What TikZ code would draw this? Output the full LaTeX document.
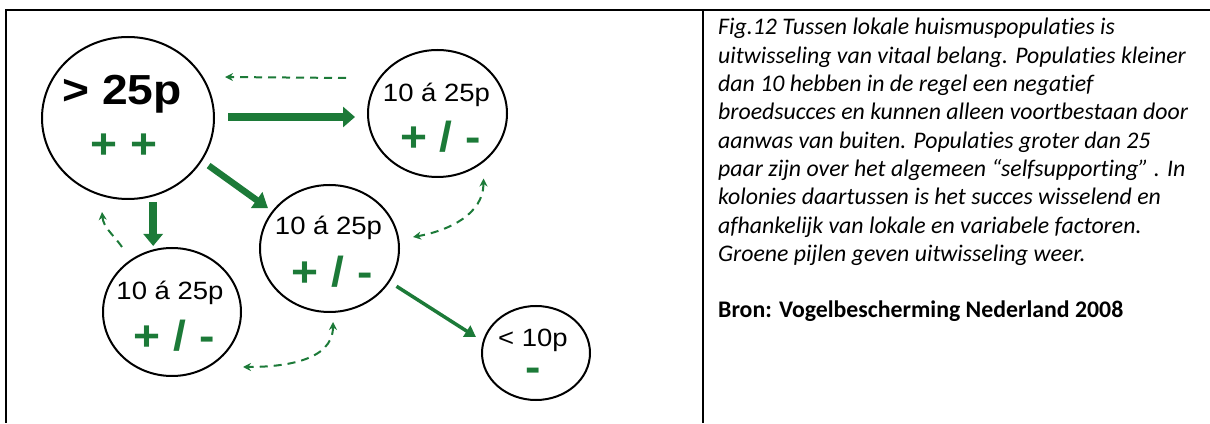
\documentclass[tikz,border=0pt]{standalone}
\usepackage{fontspec}
\setmainfont{Carlito}[Ligatures=NoCommon]
\newfontfamily\diagfont[FakeStretch=1.1]{Liberation Sans}
\usetikzlibrary{shapes.geometric,arrows.meta,calc}
\definecolor{pg}{RGB}{28,122,56}
\begin{document}
\begin{tikzpicture}[x=1pt,y=1pt,
  popnode/.style={ellipse, draw=black, line width=2pt, inner sep=0pt, outer sep=0pt},
  numlbl/.style={anchor=base, inner sep=0pt, font=\diagfont\fontsize{25}{30}\selectfont},
  biglbl/.style={anchor=base, inner sep=0pt, font=\diagfont\bfseries\fontsize{42}{48}\selectfont},
  signlbl/.style={anchor=base, inner sep=0pt, text=pg, font=\diagfont\bfseries\fontsize{42}{48}\selectfont},
  caplbl/.style={anchor=base west, inner sep=0pt, font=\itshape\fontsize{23.8}{28}\selectfont},
  bronlbl/.style={anchor=base west, inner sep=0pt, font=\bfseries\fontsize{23.8}{28}\selectfont},
  solidarr/.style={draw=pg, line width=#1},
  dasharr/.style={draw=pg, line width=2pt, dash pattern=on 8pt off 6pt},
  frameline/.style={draw=black, line width=#1},
  tipS/.tip={Stealth[length=8pt,width=8pt]}
]
\useasboundingbox (0,0) rectangle (1210,423);
% frame
\coordinate (fTL) at (6,413);
\coordinate (fTR) at (1210,413);
\coordinate (fBL) at (6,0);
\coordinate (dT) at (703,413);
\coordinate (dB) at (703,0);
\draw[frameline=1.8pt] (fTL) -- (fTR);
\draw[frameline=2.5pt] ([yshift=0.9pt]fTL) -- (fBL);
\draw[frameline=2.5pt] ([yshift=0.9pt]dT) -- (dB);

% population circles
\node[popnode, minimum width=172pt, minimum height=162pt] (big) at (128,305) {};
\node[popnode, minimum width=139pt, minimum height=127pt] (right) at (437.5,309.5) {};
\node[popnode, minimum width=139pt, minimum height=127pt] (middle) at (329.5,174.5) {};
\node[popnode, minimum width=138pt, minimum height=128pt] (bl) at (172,111) {};
\node[popnode, minimum width=108pt, minimum height=94pt] (small) at (536,70) {};

% texts in circles
\node[biglbl] (bigT) at (122,318) {> 25p};
\node[signlbl] (bigS) at (124,264) {+ +};
\node[numlbl] (rightT) at (436.5,321) {10 á 25p};
\node[signlbl] (rightS) at (440.5,271) {+ / -};
\node[numlbl] (middleT) at (328.5,188) {10 á 25p};
\node[signlbl] (middleS) at (332,136) {+ / -};
\node[numlbl] (blT) at (170,123) {10 á 25p};
\node[signlbl] (blS) at (174,72) {+ / -};
\node[numlbl] (smallT) at (533,76) {< 10p};
\node[signlbl, text height=14pt, text depth=0pt] (smallS) at (533.5,41) {-};

% solid green arrows
\draw[solidarr=8pt, -{Triangle[length=12pt,width=20pt]}]
  ($(big.east)+(14,1)$) -- ($(right.west)+(-13,-3.5)$);
\draw[solidarr=6.5pt, -{Triangle[length=14pt,width=19pt]}, shorten <=9pt, shorten >=6pt]
  (big.-30) -- (middle.147);
\draw[solidarr=7.5pt, -{Triangle[length=12pt,width=19pt]}, shorten <=7pt, shorten >=2pt]
  (big.-72) -- (big.-72 |- bl.north);
\draw[solidarr=3.5pt, -{Triangle[length=11pt,width=13pt]}, shorten <=9pt, shorten >=9pt]
  (middle.-29) -- (small.168);

% dashed exchange arrows
\draw[dasharr, -tipS] ($(right.west)+(-22,35.5)$) -- ($(big.east)+(11,41)$);
\draw[dasharr, -tipS] ($(bl.center)+(-50,65)$) to[out=125,in=-85] ($(big.center)+(-26,-94)$);
\draw[dasharr, tipS-tipS] ($(middle.south)+(3.5,-10)$) to[out=-90,in=0] ($(bl.east)+(2,-55)$);
\draw[dasharr, tipS-tipS] ($(right.south)+(46,-1.5)$) to[out=-90,in=10] ($(middle.east)+(14,11.5)$);

% caption
\node[caplbl] (c1) at (718,388) {Fig.12 Tussen lokale huismuspopulaties is};
\node[caplbl] (c2) at (718,359.7) {uitwisseling van vitaal belang. Populaties kleiner};
\node[caplbl] (c3) at (718,331.4) {dan 10 hebben in de regel een negatief};
\node[caplbl] (c4) at (718,303.1) {broedsucces en kunnen alleen voortbestaan door};
\node[caplbl] (c5) at (718,274.8) {aanwas van buiten. Populaties groter dan 25};
\node[caplbl] (c6) at (718,246.5) {paar zijn over het algemeen “selfsupporting” . In};
\node[caplbl] (c7) at (718,218.2) {kolonies daartussen is het succes wisselend en};
\node[caplbl] (c8) at (718,189.9) {afhankelijk van lokale en variabele factoren.};
\node[caplbl] (c9) at (718,161.6) {Groene pijlen geven uitwisseling weer.};
\node[bronlbl] (bron) at (718,105) {Bron: Vogelbescherming Nederland 2008};
\end{tikzpicture}
\end{document}
